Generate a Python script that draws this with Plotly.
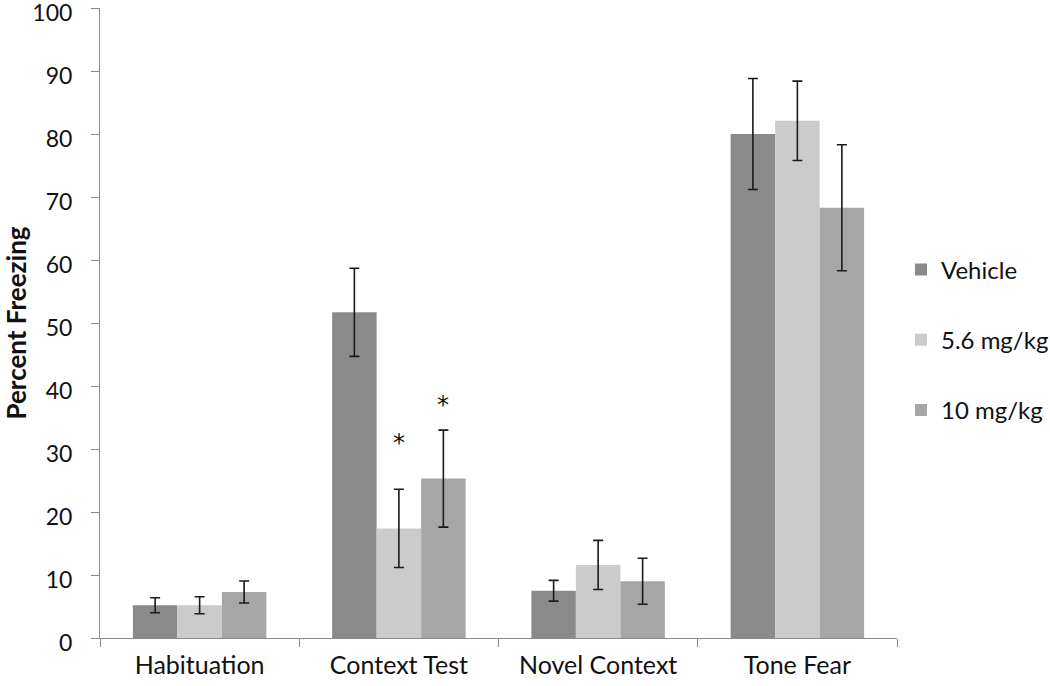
import plotly.graph_objects as go

categories = ["Habituation", "Context Test", "Novel Context", "Tone Fear"]
groups = ["Vehicle", "5.6 mg/kg", "10 mg/kg"]
vehicle = [5.2, 51.7, 7.5, 80.0]
vehicle_err = [1.2, 7.0, 1.65, 8.8]
dose56 = [5.2, 17.4, 11.6, 82.1]
dose56_err = [1.35, 6.2, 3.9, 6.3]
dose10 = [7.3, 25.3, 9.0, 68.3]
dose10_err = [1.75, 7.7, 3.65, 10.0]
# significance markers: (category, group index, label y)
sig_category = ["Context Test", "Context Test"]
sig_group = [1, 2]
sig_y = [31.0, 37.0]

colors = ["#8a8a8a", "#cbcbcb", "#a6a6a6"]
values = [vehicle, dose56, dose10]
errors = [vehicle_err, dose56_err, dose10_err]

bargap = 0.33
fig = go.Figure()
for i, name in enumerate(groups):
    fig.add_trace(go.Bar(
        x=categories, y=values[i], name=name, legendgroup=name,
        marker=dict(color=colors[i], line=dict(width=0)),
        error_y=dict(type="data", array=errors[i], visible=True,
                     color="#1a1a1a", thickness=1.6, width=5),
    ))

bw = (1 - bargap) / len(groups)
for cat, g, yv in zip(sig_category, sig_group, sig_y):
    xi = categories.index(cat) + (g - (len(groups) - 1) / 2) * bw
    fig.add_annotation(x=xi, y=yv, xref="x", yref="y", text="*",
                       showarrow=False, font=dict(size=24, color="#111", family="DejaVu Sans"))

fig.update_layout(
    width=1050, height=686,
    margin=dict(l=100, r=153, t=8, b=48, autoexpand=False),
    paper_bgcolor="white", plot_bgcolor="white",
    barmode="group", bargap=bargap, bargroupgap=0,
    font=dict(family="Lato", size=25, color="#111"),
    showlegend=True,
    legend=dict(x=1.005, y=0.473, xanchor="left", yanchor="middle",
                font=dict(size=24), tracegroupgap=36, itemwidth=30),
)
fig.update_xaxes(
    type="category", range=[-0.5, 3.5],
    showline=True, linecolor="#8c8c8c", linewidth=1,
    ticks="outside", tickson="boundaries", ticklen=8, tickcolor="#8c8c8c",
    tickfont=dict(size=25, family="Lato"), ticklabelstandoff=5,
    showgrid=False,
)
fig.update_yaxes(
    range=[0, 100], dtick=10,
    showline=True, linecolor="#8c8c8c", linewidth=1,
    ticks="outside", ticklen=8, tickcolor="#8c8c8c",
    tickfont=dict(size=23, family="Lato"), ticklabeloverflow="allow",
    ticklabelstandoff=14, ticklabelshift=5,
    showgrid=False, zeroline=False,
    title=dict(text="<b>Percent Freezing</b>", font=dict(size=26, family="Lato"), standoff=15),
)

fig.write_html("out.html", config={"displayModeBar": False},
               post_script="document.body.style.margin='0px';")
